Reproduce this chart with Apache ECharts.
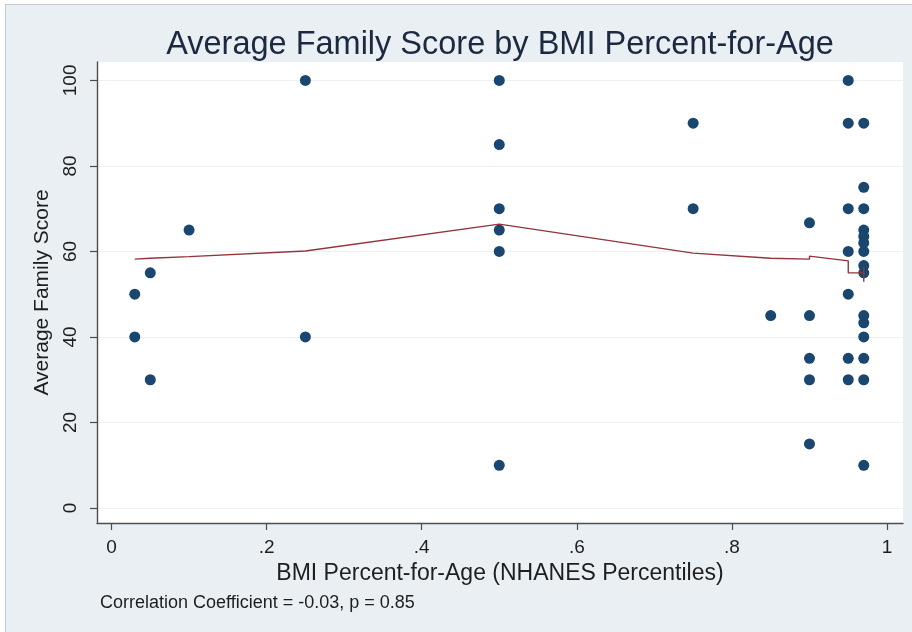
<!DOCTYPE html>
<html>
<head>
<meta charset="utf-8">
<script src="https://cdn.jsdelivr.net/npm/echarts@6/dist/echarts.min.js"></script>
<style>
  html, body { margin: 0; padding: 0; background: #fff; }
  #frame { position: absolute; left: 5px; top: 4px; width: 907px; height: 628px;
           background: #e9eff3; border-left: 1px solid #c3c9ce; border-top: 1px solid #c3c9ce; }
  #chart { position: absolute; left: 0; top: 0; width: 912px; height: 632px; }
</style>
</head>
<body>
<div id="frame"></div>
<div id="chart"></div>
<script>
// Observations: BMI percentile (NHANES) and average family score
const bmiPercentile = [
  0.03, 0.03,
  0.05, 0.05,
  0.10,
  0.25, 0.25,
  0.50, 0.50, 0.50, 0.50, 0.50, 0.50,
  0.75, 0.75,
  0.85,
  0.90, 0.90, 0.90, 0.90, 0.90,
  0.95, 0.95, 0.95, 0.95, 0.95, 0.95, 0.95,
  0.97, 0.97, 0.97, 0.97, 0.97, 0.97, 0.97, 0.97, 0.97, 0.97, 0.97, 0.97, 0.97, 0.97, 0.97
];
const familyScore = [
  50, 40,
  55, 30,
  65,
  100, 40,
  100, 85, 70, 65, 60, 10,
  90, 70,
  45,
  66.7, 45, 35, 30, 15,
  100, 90, 70, 60, 50, 35, 30,
  90, 75, 70, 65, 63.5, 62, 60, 56.7, 55, 45, 43.3, 40, 35, 30, 10
];

// Lowess smooth, one fitted value per sorted observation
const lowessX = [0.03, 0.05, 0.10, 0.25, 0.50, 0.75, 0.85, 0.90, 0.90, 0.90, 0.95, 0.95, 0.97, 0.97, 0.97];
const lowessY = [58.2, 58.4, 58.8, 60.1, 66.4, 59.6, 58.4, 58.2, 58.9, 58.5, 57.8, 55.0, 55.0, 56.3, 52.9];

const xTicks = [0, 0.2, 0.4, 0.6, 0.8, 1];
const xTickLabels = ['0', '.2', '.4', '.6', '.8', '1'];
const yTicks = [0, 20, 40, 60, 80, 100];

const titleText = 'Average Family Score by BMI Percent-for-Age';
const xTitle = 'BMI Percent-for-Age (NHANES Percentiles)';
const yTitle = 'Average Family Score';
const noteText = 'Correlation Coefficient = -0.03, p = 0.85';

const FONT = 'Liberation Sans, Arial, Helvetica, sans-serif';
const axisColor = '#4d4d4d';

const points = bmiPercentile.map((x, i) => [x, familyScore[i]]);
const smooth = lowessX.map((x, i) => [x, lowessY[i]]);

const chart = echarts.init(document.getElementById('chart'), null, { renderer: 'canvas' });
chart.setOption({
  backgroundColor: 'transparent',
  animation: false,
  grid: {
    left: 97, right: 9, top: 62, bottom: 109,
    show: true, backgroundColor: '#ffffff', borderWidth: 0
  },
  xAxis: {
    type: 'value',
    min: -0.0187, max: 1.0206,
    name: xTitle,
    nameLocation: 'middle',
    nameGap: 38,
    nameTextStyle: { fontSize: 23, color: '#1e1e1e', fontFamily: FONT },
    axisLine: { show: true, onZero: false, lineStyle: { color: axisColor, width: 1.4 } },
    axisTick: { show: true, length: 7, customValues: xTicks, lineStyle: { color: axisColor, width: 1.2 } },
    axisLabel: {
      customValues: xTicks,
      margin: 15,
      fontSize: 19, color: '#1e1e1e', fontFamily: FONT,
      formatter: v => xTickLabels[xTicks.findIndex(t => Math.abs(t - v) < 1e-9)]
    },
    splitLine: { show: false }
  },
  yAxis: {
    type: 'value',
    min: -3.5, max: 104.3,
    name: yTitle,
    nameLocation: 'middle',
    nameRotate: 90,
    nameGap: 43,
    nameTextStyle: { fontSize: 21, color: '#1e1e1e', fontFamily: FONT },
    axisLine: { show: true, onZero: false, lineStyle: { color: axisColor, width: 1.4 } },
    axisTick: { show: true, length: 7, customValues: yTicks, lineStyle: { color: axisColor, width: 1.2 } },
    axisLabel: {
      customValues: yTicks,
      rotate: 90,
      margin: 17,
      fontSize: 19, color: '#1e1e1e', fontFamily: FONT
    },
    splitLine: { show: true, lineStyle: { color: '#edf1f4', width: 1.2 } }
  },
  graphic: [
    {
      type: 'text', x: 500, y: 45, silent: true,
      style: { text: titleText, fontSize: 32.5, fontFamily: FONT, fill: '#1b2a41', align: 'center', verticalAlign: 'middle' }
    },
    {
      type: 'text', x: 100, y: 603, silent: true,
      style: { text: noteText, fontSize: 18, fontFamily: FONT, fill: '#1e1e1e', align: 'left', verticalAlign: 'middle' }
    }
  ],
  series: [
    {
      type: 'scatter',
      data: points,
      symbol: 'circle',
      symbolSize: 11,
      itemStyle: { color: '#1a476f', opacity: 1 },
      z: 3
    },
    {
      type: 'line',
      data: smooth,
      showSymbol: false,
      symbol: 'none',
      lineStyle: { color: '#90353b', width: 1.4 },
      z: 4
    }
  ]
});
</script>
</body>
</html>
